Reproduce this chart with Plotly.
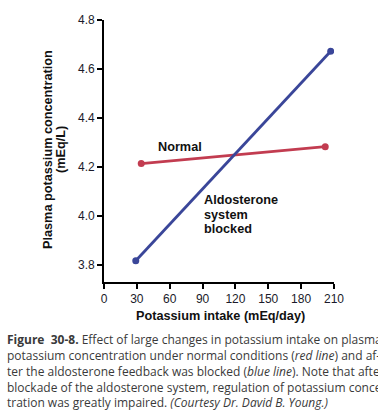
import plotly.graph_objects as go

# Data
intake_normal = [34, 202]
k_normal = [4.213, 4.282]
intake_blocked = [29, 207]
k_blocked = [3.816, 4.672]

x_ticks = [0, 30, 60, 90, 120, 150, 180, 210]
y_ticks = [3.8, 4.0, 4.2, 4.4, 4.6, 4.8]
y_tick_labels = ["3.8", "4.0", "4.2", "4.4", "4.6", "4.8"]

caption_lines = [
    "<b>Figure  30-8.</b> Effect of large changes in potassium intake on plasma",
    "potassium concentration under normal conditions (<i>red line</i>) and af-",
    "ter the aldosterone feedback was blocked (<i>blue line</i>). Note that after",
    "blockade of the aldosterone system, regulation of potassium concen-",
    "tration was greatly impaired. <i>(Courtesy Dr. David B. Young.)</i>",
]

BLUE = "#3a4699"
RED = "#c23c50"
W, H = 378, 416
L, R, T, B = 104, 44, 20, 134
PH = H - T - B

fig = go.Figure()
fig.add_trace(go.Scatter(x=intake_normal, y=k_normal, mode="lines+markers",
                         line=dict(color=RED, width=2.8),
                         marker=dict(color=RED, size=7), showlegend=False))
fig.add_trace(go.Scatter(x=intake_blocked, y=k_blocked, mode="lines+markers",
                         line=dict(color=BLUE, width=2.8),
                         marker=dict(color=BLUE, size=7), showlegend=False))

bold_font = dict(family="Liberation Sans", size=12.7, color="#111111")

annots = [
    dict(x=69.4, y=4.279, text="<b>Normal</b>", xanchor="center", yanchor="middle"),
    dict(x=89.1, y=4.063, text="<b>Aldosterone</b>", xanchor="left", yanchor="middle"),
    dict(x=89.1, y=4.001, text="<b>system</b>", xanchor="left", yanchor="middle"),
    dict(x=89.1, y=3.945, text="<b>blocked</b>", xanchor="left", yanchor="middle"),
]
for a in annots:
    fig.add_annotation(xref="x", yref="y", showarrow=False, font=bold_font, **a)

def px_to_paper_x(px):
    return (px - L) / (W - L - R)

def py_to_paper_y(py):
    return (H - B - py) / PH

# axis titles
fig.add_annotation(xref="paper", yref="paper", x=px_to_paper_x(220), y=py_to_paper_y(316),
                   text="<b>Potassium intake (mEq/day)</b>", showarrow=False,
                   xanchor="center", yanchor="middle", font=bold_font)
fig.add_annotation(xref="paper", yref="paper", x=px_to_paper_x(48), y=py_to_paper_y(150),
                   text="<b>Plasma potassium concentration</b>", showarrow=False, textangle=-90,
                   xanchor="center", yanchor="middle", font=bold_font)
fig.add_annotation(xref="paper", yref="paper", x=px_to_paper_x(61), y=py_to_paper_y(150),
                   text="<b>(mEq/L)</b>", showarrow=False, textangle=-90,
                   xanchor="center", yanchor="middle", font=bold_font)

cap_y = [339, 355, 371, 387, 402.5]
for line, cy in zip(caption_lines, cap_y):
    fig.add_annotation(xref="paper", yref="paper", x=px_to_paper_x(5), y=py_to_paper_y(cy),
                       text=line, showarrow=False, xanchor="left", yanchor="middle",
                       font=dict(family="Open Sans", size=12, color="#3a3a3a"))

fig.update_xaxes(range=[0, 210], tickvals=x_ticks, showline=True, linecolor="black",
                 linewidth=1.8, ticks="outside", ticklen=5, tickwidth=1.5, tickcolor="black",
                 showgrid=False, zeroline=False,
                 tickfont=dict(family="Liberation Sans", size=12, color="#1a1a2a"))
fig.update_yaxes(range=[3.729, 4.8], tickvals=y_ticks, ticktext=y_tick_labels, showline=True,
                 linecolor="black", linewidth=1.8, ticks="outside", ticklen=5, tickwidth=1.5,
                 tickcolor="black", showgrid=False, zeroline=False,
                 tickfont=dict(family="Liberation Sans", size=12, color="#1a1a2a"))

fig.update_layout(width=W, height=H, margin=dict(l=L, r=R, t=T, b=B),
                  paper_bgcolor="white", plot_bgcolor="white")

fig.write_html("out.html")
